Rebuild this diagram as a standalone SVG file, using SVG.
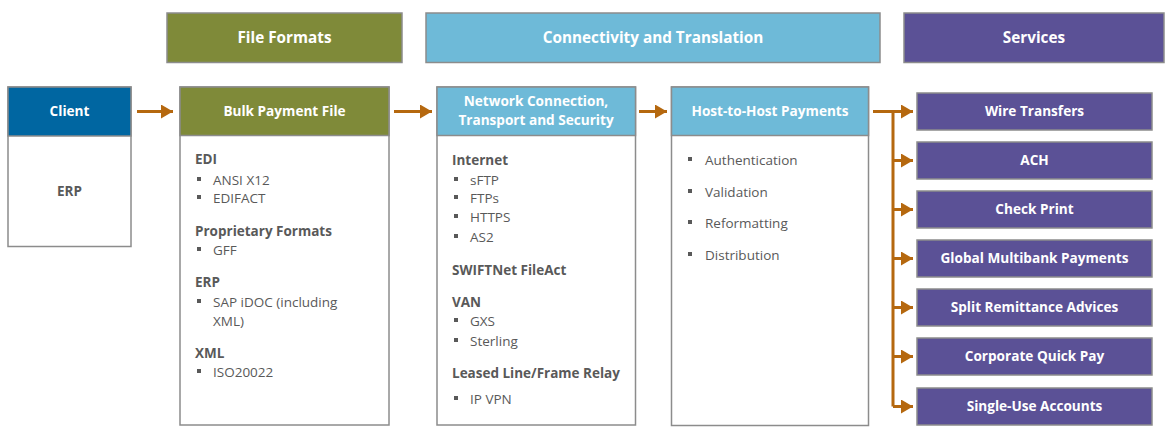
<svg xmlns="http://www.w3.org/2000/svg" width="1172" height="447" viewBox="0 0 1172 447">
<defs>
<style>
.box{stroke:#8c8c8c;stroke-width:1.5}
.body{fill:#ffffff;stroke:#8c8c8c;stroke-width:1.5}
.olive{fill:#7f8a39}
.blue{fill:#6ebad8}
.navy{fill:#0066a1}
.purple{fill:#5b5196}
.hd{font-family:"Open Sans","Liberation Sans",sans-serif;font-weight:bold;fill:#ffffff;text-anchor:middle}
.big{font-size:15.3px}
.sm{font-size:13.6px}
.t{font-family:"Open Sans","Liberation Sans",sans-serif;font-size:13.5px;fill:#595959}
.b{font-weight:bold}
.bul{fill:#595959}
.con{stroke:#b5680f;stroke-width:3;fill:none}
</style>
<marker id="ah" viewBox="0 0 12 14" refX="12" refY="7" markerWidth="12" markerHeight="14" markerUnits="userSpaceOnUse" orient="auto">
<path d="M0,0 L12,7 L0,14 Z" fill="#b5680f"/>
</marker>
</defs>

<g id="hdr-file-formats">
<rect x="167" y="13" width="235" height="49.5" class="box olive"/>
<text x="284.5" y="43" class="hd big">File Formats</text>
</g>
<g id="hdr-connectivity">
<rect x="426" y="13" width="454" height="49.5" class="box blue"/>
<text x="653" y="43" class="hd big">Connectivity and Translation</text>
</g>
<g id="hdr-services">
<rect x="904" y="13" width="260" height="49.5" class="box purple"/>
<text x="1034" y="43" class="hd big">Services</text>
</g>

<g id="client">
<rect x="8" y="87" width="123" height="159.5" class="body"/>
<rect x="8" y="87" width="123" height="49" class="box navy"/>
<text x="69.5" y="116" class="hd sm">Client</text>
<text x="69.5" y="196" class="t b" text-anchor="middle">ERP</text>
</g>

<g id="bulk-payment-file">
<rect x="180" y="87" width="209" height="338" class="body"/>
<rect x="180" y="87" width="209" height="48.5" class="box olive"/>
<text x="284.5" y="116" class="hd sm">Bulk Payment File</text>
<text x="195" y="164" class="t b">EDI</text>
<rect x="197" y="177" width="4" height="4" class="bul"/><text x="213" y="185" class="t">ANSI X12</text>
<rect x="197" y="195" width="4" height="4" class="bul"/><text x="213" y="203" class="t">EDIFACT</text>
<text x="195" y="236" class="t b">Proprietary Formats</text>
<rect x="197" y="247" width="4" height="4" class="bul"/><text x="213" y="255" class="t">GFF</text>
<text x="195" y="287" class="t b">ERP</text>
<rect x="197" y="299" width="4" height="4" class="bul"/><text x="213" y="307" class="t">SAP iDOC (including</text>
<text x="213" y="326" class="t">XML)</text>
<text x="195" y="358" class="t b">XML</text>
<rect x="197" y="369" width="4" height="4" class="bul"/><text x="213" y="377" class="t">ISO20022</text>
</g>

<g id="network-connection">
<rect x="437" y="87" width="198.5" height="338" class="body"/>
<rect x="437" y="87" width="198.5" height="48.5" class="box blue"/>
<text x="536" y="106" class="hd sm">Network Connection,</text>
<text x="536" y="125" class="hd sm">Transport and Security</text>
<text x="452" y="165" class="t b">Internet</text>
<rect x="454" y="177" width="4" height="4" class="bul"/><text x="470" y="185" class="t">sFTP</text>
<rect x="454" y="195" width="4" height="4" class="bul"/><text x="470" y="203" class="t">FTPs</text>
<rect x="454" y="214" width="4" height="4" class="bul"/><text x="470" y="222" class="t">HTTPS</text>
<rect x="454" y="234" width="4" height="4" class="bul"/><text x="470" y="242" class="t">AS2</text>
<text x="452" y="275" class="t b">SWIFTNet FileAct</text>
<text x="452" y="307" class="t b">VAN</text>
<rect x="454" y="318" width="4" height="4" class="bul"/><text x="470" y="326" class="t">GXS</text>
<rect x="454" y="338" width="4" height="4" class="bul"/><text x="470" y="346" class="t">Sterling</text>
<text x="452" y="378" class="t b">Leased Line/Frame Relay</text>
<rect x="454" y="396" width="4" height="4" class="bul"/><text x="470" y="404" class="t">IP VPN</text>
</g>

<g id="host-to-host">
<rect x="671.5" y="87" width="197" height="338.5" class="body"/>
<rect x="671.5" y="87" width="197" height="48.5" class="box blue"/>
<text x="770" y="116" class="hd sm">Host-to-Host Payments</text>
<rect x="688" y="157" width="4" height="4" class="bul"/><text x="705" y="165" class="t">Authentication</text>
<rect x="688" y="189" width="4" height="4" class="bul"/><text x="705" y="197" class="t">Validation</text>
<rect x="688" y="220" width="4" height="4" class="bul"/><text x="705" y="228" class="t">Reformatting</text>
<rect x="688" y="252" width="4" height="4" class="bul"/><text x="705" y="260" class="t">Distribution</text>
</g>

<g id="svc-wire"><rect x="917" y="93" width="235" height="37" class="box purple"/><text x="1034.5" y="116" class="hd sm">Wire Transfers</text></g>
<g id="svc-ach"><rect x="917" y="142" width="235" height="37" class="box purple"/><text x="1034.5" y="165" class="hd sm">ACH</text></g>
<g id="svc-check"><rect x="917" y="191" width="235" height="37" class="box purple"/><text x="1034.5" y="214" class="hd sm">Check Print</text></g>
<g id="svc-global"><rect x="917" y="240" width="235" height="37" class="box purple"/><text x="1034.5" y="263" class="hd sm">Global Multibank Payments</text></g>
<g id="svc-split"><rect x="917" y="289" width="235" height="37" class="box purple"/><text x="1034.5" y="312" class="hd sm">Split Remittance Advices</text></g>
<g id="svc-cqp"><rect x="917" y="338" width="235" height="37" class="box purple"/><text x="1034.5" y="361" class="hd sm">Corporate Quick Pay</text></g>
<g id="svc-single"><rect x="917" y="388" width="235" height="37" class="box purple"/><text x="1034.5" y="411" class="hd sm">Single-Use Accounts</text></g>

<g id="connectors">
<line x1="137" y1="111.5" x2="173" y2="111.5" class="con" marker-end="url(#ah)"/>
<line x1="394" y1="111.5" x2="432" y2="111.5" class="con" marker-end="url(#ah)"/>
<line x1="639" y1="111.5" x2="667" y2="111.5" class="con" marker-end="url(#ah)"/>
<polyline points="873,111.5 893,111.5 893,406.5" class="con"/>
<line x1="893" y1="111.5" x2="913" y2="111.5" class="con" marker-end="url(#ah)"/>
<line x1="893" y1="160.5" x2="913" y2="160.5" class="con" marker-end="url(#ah)"/>
<line x1="893" y1="209.5" x2="913" y2="209.5" class="con" marker-end="url(#ah)"/>
<line x1="893" y1="258.5" x2="913" y2="258.5" class="con" marker-end="url(#ah)"/>
<line x1="893" y1="307.5" x2="913" y2="307.5" class="con" marker-end="url(#ah)"/>
<line x1="893" y1="356.5" x2="913" y2="356.5" class="con" marker-end="url(#ah)"/>
<line x1="893" y1="406.5" x2="913" y2="406.5" class="con" marker-end="url(#ah)"/>
</g>
</svg>
